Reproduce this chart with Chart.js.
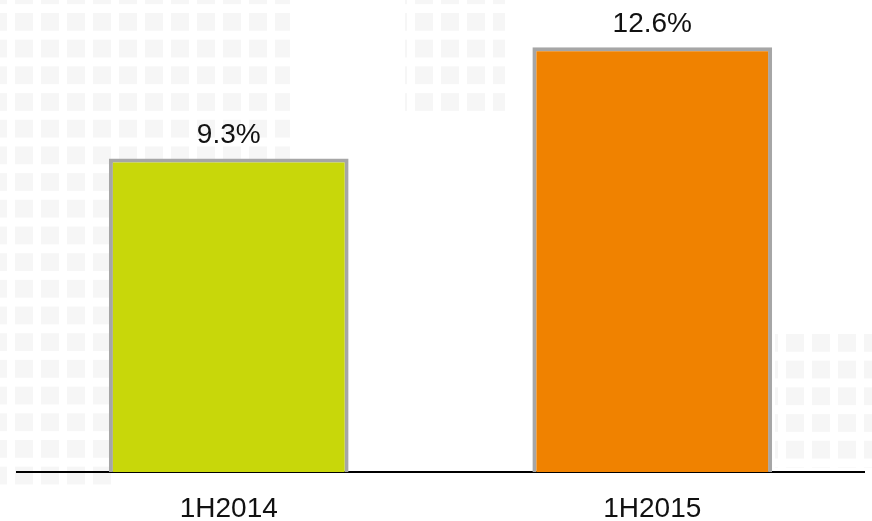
<!DOCTYPE html>
<html>
<head>
<meta charset="utf-8">
<script src="https://cdn.jsdelivr.net/npm/chart.js@4.4.1/dist/chart.umd.min.js"></script>
<style>
  html, body { margin: 0; padding: 0; background: #ffffff; }
  #wrap { width: 872px; height: 521px; position: relative; }
  /* fondo decorativo de cuadritos grises muy claros (mapa punteado) */
  .fondo {
    position: absolute;
    background-image:
      linear-gradient(to bottom, transparent 0 18px, #ffffff 18px),
      linear-gradient(to right, #f6f6f6 0 18px, #ffffff 18px);
    background-size: 26px 26.7px;
    background-position: 15px 13px;
  }
  canvas { position: relative; }
</style>
</head>
<body>
<div id="wrap">
  <div class="fondo" style="left:0;top:0;width:290px;height:170px;"></div>
  <div class="fondo" style="left:0;top:0;width:112px;height:485px;"></div>
  <div class="fondo" style="left:405px;top:0;width:100px;height:112px;background-position:10px 13px;"></div>
  <div class="fondo" style="left:775px;top:328px;width:97px;height:140px;background-position:11px 6px;"></div>
  <canvas id="myChart"></canvas>
</div>
<script>
// datos del gráfico
const categorias = ['1H2014', '1H2015'];
const valores = [9.3, 12.6];
const etiquetas = ['9.3%', '12.6%'];
const coloresBarra = ['#c8d70a', '#f08200'];

// plugin sencillo para escribir el valor encima de cada barra
const valorEncima = {
  id: 'valorEncima',
  afterDatasetsDraw(chart) {
    const ctx = chart.ctx;
    const meta = chart.getDatasetMeta(0);
    ctx.save();
    ctx.font = '28px "Liberation Sans", Arial, sans-serif';
    ctx.fillStyle = '#111111';
    ctx.textAlign = 'center';
    ctx.textBaseline = 'alphabetic';
    meta.data.forEach((bar, i) => {
      ctx.fillText(etiquetas[i], bar.x, bar.y - 15);
    });
    ctx.restore();
  }
};

const ctx = document.getElementById('myChart').getContext('2d');
const chart = new Chart(ctx, {
  type: 'bar',
  data: {
    labels: categorias,
    datasets: [{
      data: valores,
      backgroundColor: coloresBarra,
      borderColor: '#a6a6a6',
      borderWidth: 4,
      barPercentage: 0.566,
      categoryPercentage: 1
    }]
  },
  options: {
    responsive: true,
    maintainAspectRatio: false,
    animation: false,
    layout: { padding: { left: 17, right: 8, top: 0, bottom: 0 } },
    plugins: {
      legend: { display: false },
      tooltip: { enabled: false }
    },
    scales: {
      x: {
        grid: { display: false, drawTicks: false },
        border: { display: true, color: '#000000', width: 2 },
        ticks: {
          color: '#111111',
          padding: 23,
          font: { family: '"Liberation Sans", Arial, sans-serif', size: 28, lineHeight: 1 }
        },
        afterFit(scale) {
          scale.height = 49; // deja la línea base en y≈472
        }
      },
      y: {
        display: false,
        min: 0,
        max: 14
      }
    }
  },
  plugins: [valorEncima]
});
</script>
</body>
</html>
